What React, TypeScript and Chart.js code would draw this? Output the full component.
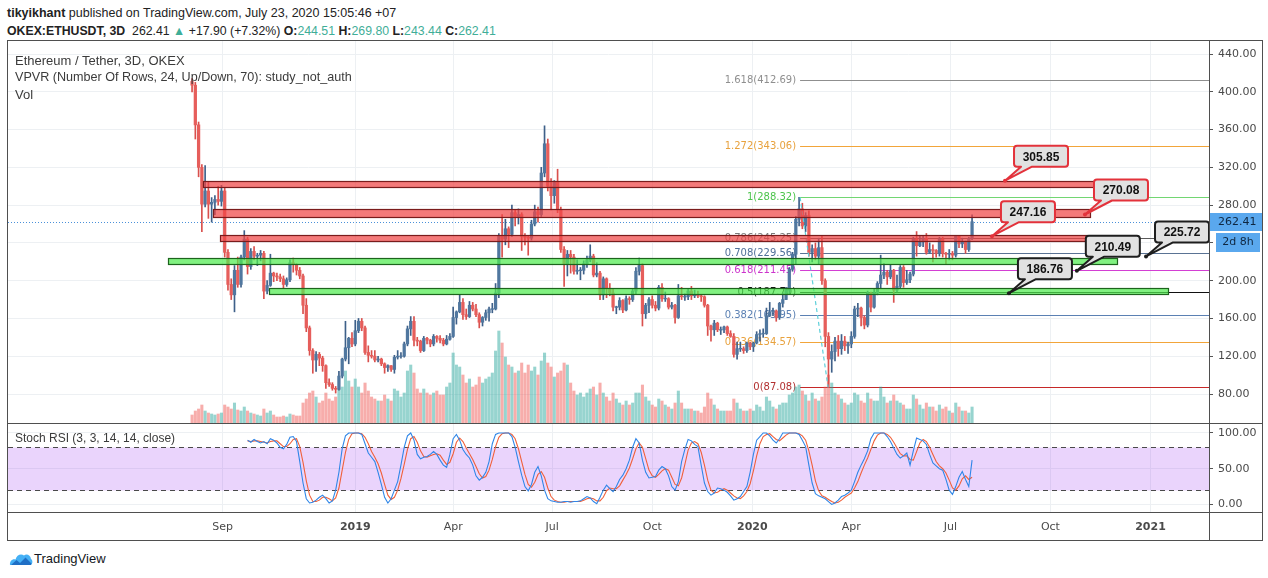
import React, { useEffect, useRef } from "react";
import { Chart, registerables } from "chart.js";
Chart.register(...registerables);

// ---------- DATA ----------
const FIRST_DAY = Date.UTC(2018, 7, 4); // first 3D candle
const DAY_MS = 86400000;
const DAYS_PER_BAR = 3;

const firstOpen = 411;
const closes = [
  407,365,320,281,295,281,283,286,284,295,
  230,196,185,211,196,225,244,215,231,226,
  227,229,189,195,208,205,204,202,196,201,
  219,217,211,205,174,150,126,116,122,118,
  110,92,90,86,85,99,117,129,139,133,
  147,157,150,124,121,120,116,117,112,108,
  110,106,119,120,120,133,149,157,137,136,
  126,139,137,133,141,139,137,133,138,141,
  161,167,177,164,162,174,170,164,156,161,
  166,170,170,187,248,244,255,249,272,268,
  270,247,246,245,260,273,270,314,345,300,
  290,304,275,233,218,228,225,210,211,211,
  218,222,226,206,208,185,202,192,187,172,
  172,179,169,181,180,189,210,216,165,174,
  180,174,171,193,181,181,172,174,161,184,
  183,183,189,184,185,184,183,174,152,148,
  155,148,148,151,144,141,122,128,128,126,
  134,130,134,143,144,144,163,167,168,161,
  176,180,190,212,228,265,276,258,269,230,
  234,226,235,200,141,117,125,136,128,136,
  131,133,141,170,171,161,153,187,172,187,
  197,206,209,204,211,190,194,214,198,201,
  207,244,237,241,245,230,233,232,229,244,
  229,228,229,227,247,239,241,233,244.51,262.41,
];
const highs = [
  414,410,368,323,322,305,288,290,300,301,
  298,233,202,216,225,227,253,246,234,236,
  229,232,231,200,228,209,208,207,205,203,
  222,224,218,214,207,181,152,128,125,124,
  120,111,96,92,88,104,118,157,140,145,
  158,160,160,152,131,126,126,120,118,113,
  111,110,121,126,124,135,152,162,162,140,
  137,141,140,138,143,142,142,139,142,144,
  172,168,185,181,170,178,177,175,166,162,
  169,172,176,197,250,270,265,257,280,275,
  276,272,250,248,264,280,278,320,364,350,
  308,306,318,278,236,232,232,228,222,214,
  221,226,238,228,219,210,204,203,197,192,
  173,182,180,184,183,191,214,224,218,176,
  182,184,178,195,197,188,182,177,175,196,
  193,186,192,194,190,189,185,184,175,153,
  158,156,151,152,152,147,144,135,135,130,
  135,135,135,146,148,149,171,177,171,169,
  177,187,193,214,230,268,288.32,282,272,274,
  238,240,245,248,202,145,132,140,142,143,
  141,135,146,173,176,172,163,189,188,191,
  199,227,218,211,217,212,206,216,216,211,
  209,246,252,247,247,250,240,238,233,246,
  246,230,233,231,248,248,245,242,246,269.8,
];
const lows = [
  400,350,310,252,278,266,262,270,280,279,
  225,190,180,167,193,193,222,207,212,222,
  216,221,181,186,194,199,200,199,192,194,
  199,209,206,202,165,146,121,102,104,110,
  104,86,88,84,81,84,97,115,112,130,
  131,145,147,122,114,118,114,114,110,102,
  104,104,102,117,118,119,131,142,131,131,
  124,125,133,130,131,135,134,131,132,137,
  140,154,166,159,159,161,168,162,150,152,
  158,157,166,169,182,225,238,235,247,258,
  260,232,238,227,243,258,262,268,310,295,
  275,282,272,230,194,205,208,207,207,201,
  207,214,220,204,204,180,180,182,184,168,
  165,169,166,168,175,178,186,206,152,160,
  166,171,168,169,178,178,170,170,155,160,
  180,179,180,180,182,182,178,172,142,136,
  142,146,143,145,142,140,119,117,125,123,
  124,127,125,133,136,140,143,162,163,157,
  159,172,180,186,210,218,258,255,252,226,
  220,222,218,196,130,87.08,103,115,120,122,
  126,123,129,139,162,152,149,151,167,171,
  185,192,202,196,202,177,188,192,193,196,
  198,205,226,236,236,228,229,220,225,226,
  225,217,222,222,225,235,235,229,231,243.44,
];
const volumes = [
  8,12,14,18,12,10,9,8,9,10,
  18,16,14,20,13,12,16,12,10,9,
  8,7,14,10,12,8,6,6,7,6,
  9,8,7,7,20,24,30,32,26,20,
  22,30,24,22,26,34,36,52,42,36,
  44,36,30,40,32,26,24,22,22,28,
  24,22,34,32,26,30,52,58,50,34,
  30,34,30,28,30,32,28,28,36,40,
  70,58,56,48,40,44,36,38,46,40,
  44,46,50,72,92,80,66,58,56,50,
  52,60,50,58,52,56,48,62,70,60,
  56,46,50,52,60,58,40,32,28,30,
  26,30,34,36,28,40,30,26,22,30,
  24,20,18,22,18,20,30,30,38,26,
  22,18,16,24,22,18,16,14,20,32,
  20,14,14,14,12,12,10,16,30,24,
  18,14,12,12,12,12,24,20,14,12,
  12,14,12,18,16,12,26,22,16,14,
  18,20,20,28,30,36,38,32,28,22,
  30,24,22,26,36,48,40,30,28,24,
  20,18,20,30,28,22,20,30,24,22,
  22,36,26,20,22,28,22,20,18,14,
  14,28,24,18,14,20,16,16,12,18,
  14,16,12,10,20,16,12,12,10,16,
];

const stochStart = 17;
const stochK = [
  90,87,91,
  88,86,88,85,92,90,86,80,78,84,
  94,95,88,60,30,8,2,3,6,10,
  13,8,2,5,20,45,78,96,100,100,
  100,100,98,85,72,66,60,45,28,10,
  2,8,20,32,55,80,96,100,90,70,
  64,66,67,70,74,70,62,55,52,70,
  92,98,90,77,70,65,55,40,34,38,
  45,60,85,98,100,100,100,100,95,80,
  60,41,25,19,28,45,53,40,20,8,
  5,4,3,3,4,4,3,4,4,5,
  8,11,9,4,1,10,20,27,22,18,
  25,35,41,50,62,80,92,86,62,45,
  37,38,39,48,53,50,40,25,20,32,
  60,77,91,89,84,81,55,30,18,13,
  16,23,22,20,17,12,6,8,11,18,
  25,45,70,90,95,100,100,96,90,86,
  92,100,100,100,100,100,98,90,81,55,
  30,15,12,10,8,4,0,2,6,11,
  13,16,20,32,45,55,64,75,92,100,
  100,100,100,95,88,79,70,65,68,72,
  55,75,93,91,89,84,70,58,54,50,
  48,35,20,14,25,38,46,35,25,62,
];
const stochD = [
  89,88,89,
  89,88,87,86,88,89,89,85,81,81,
  85,91,92,81,59,33,13,4,4,6,
  10,10,8,5,9,23,48,73,91,99,
  100,100,99,94,85,74,66,57,44,28,
  13,7,10,20,36,56,77,92,95,87,
  75,67,66,68,70,71,69,62,56,59,
  71,87,93,88,79,71,63,53,43,37,
  39,48,63,81,94,99,100,100,98,92,
  78,60,42,28,24,31,42,46,38,23,
  11,6,4,3,3,4,4,4,4,4,
  6,8,9,8,5,5,10,19,23,22,
  22,26,34,42,51,64,78,86,80,64,
  48,40,38,42,47,50,48,38,28,26,
  37,56,76,86,88,85,73,55,34,20,
  16,17,20,22,20,16,12,9,8,12,
  18,29,47,68,85,95,98,99,95,91,
  89,93,97,100,100,100,99,96,90,75,
  55,33,19,12,10,7,4,2,3,6,
  10,13,16,23,32,44,55,65,77,89,
  97,100,100,98,94,87,79,71,68,68,
  63,62,74,86,91,88,80,70,60,54,
  50,44,34,23,20,26,36,40,35,38,
];

const tickDates = ["2018-09-01","2019-01-01","2019-04-01","2019-07-01","2019-10-01","2020-01-01","2020-04-01","2020-07-01","2020-10-01","2021-01-01"];
const tickLabels = ["Sep","2019","Apr","Jul","Oct","2020","Apr","Jul","Oct","2021"];
const priceTicks = [80,120,160,200,240,280,320,360,400,440];
const stochTicks = [0,50,100];

const fibRatios = ["1.618","1.272","1","0.786","0.708","0.618","0.5","0.382","0.236","0"];
const fibPrices = [412.69,343.06,288.32,245.25,229.56,211.45,187.70,163.95,134.57,87.08];
const fibLineColors = ["#8f8f8f","#f2a53a","#72d672","#5a5a5a","#5a7394","#d33fd3","#111111","#5b80b3","#f2a53a","#c62828"];
const fibTextColors = ["#8f8f8f","#e8a23e","#4cc44c","#7a7a7a","#4f6f99","#cc33cc","#111111","#5b80b3","#e8a23e","#b23030"];
const fibStartBar = 186.3;
const fibSwingBars = [186.3, 194.9];
const fibSwingPrices = [288.32, 87.08];

const zoneFrom = [3.4, 6.4, 8.6, -7.4, 23.6];
const zoneTo = [279.1, 275.1, 274.2, 283.4, 299];
const zoneTop = [306, 276, 248, 224, 192];
const zoneBottom = [299.5, 267, 241.5, 217.5, 186];
const zoneKind = ["red","red","red","green","green"];

const calloutBars = [249.1, 273.6, 245.1, 292.3, 271.1, 250.3];
const calloutPrices = [305.85, 270.08, 247.16, 225.72, 210.49, 186.76];
const calloutKind = ["red","red","red","black","black","black"];

const lastPrice = 262.41;
const timeLeft = "2d 8h";

// ---------- DERIVED ----------
const opens = [firstOpen, ...closes.slice(0, -1)];
const isUp = closes.map((c, i) => c >= opens[i]);
const tickIdx = tickDates.map((d) => (Date.parse(d + "T00:00:00Z") - FIRST_DAY) / DAY_MS / DAYS_PER_BAR);
const X_MIN = -56.4;
const X_MAX = 311.6;

const AXIS_FONT = '"DejaVu Sans", Verdana, sans-serif';
const UI_FONT = '"Liberation Sans", Arial, sans-serif';
const GRID = "#edf0f3";
const FRAME = "#4f4f4f";
const TEAL = "#3fae98";

const noPadV = (s: any, w: number) => { s.width = w; s.paddingTop = 0; s.paddingBottom = 0; };
const noPadH = (s: any, h: number) => { s.height = h; s.paddingLeft = 0; s.paddingRight = 0; };

const priceOverlay: any = {
  id: "priceOverlay",
  beforeDatasetsDraw(chart: any) {
    const { ctx, chartArea: a, scales } = chart;
    const x = scales.x, y = scales.y;
    ctx.save();
    ctx.beginPath();
    ctx.rect(a.left, a.top, a.right - a.left, a.bottom - a.top);
    ctx.clip();
    const ly = Math.round(y.getPixelForValue(lastPrice)) + 0.5;
    ctx.strokeStyle = "#4a90d9";
    ctx.lineWidth = 1;
    ctx.setLineDash([1, 2]);
    ctx.beginPath();
    ctx.moveTo(a.left, ly);
    ctx.lineTo(a.right, ly);
    ctx.stroke();
    ctx.setLineDash([]);
    const fx = x.getPixelForValue(fibStartBar);
    ctx.font = "10px " + AXIS_FONT;
    ctx.textAlign = "right";
    ctx.textBaseline = "middle";
    fibPrices.forEach((p, k) => {
      const py = Math.round(y.getPixelForValue(p)) + 0.5;
      ctx.strokeStyle = fibLineColors[k];
      ctx.beginPath();
      ctx.moveTo(fx, py);
      ctx.lineTo(a.right, py);
      ctx.stroke();
      ctx.fillStyle = fibTextColors[k];
      ctx.fillText(fibRatios[k] + "(" + p.toFixed(2) + ")", fx - 4, py);
    });
    ctx.restore();
  },
  afterDatasetsDraw(chart: any) {
    const { ctx, chartArea: a, scales } = chart;
    const x = scales.x, y = scales.y;
    ctx.save();
    ctx.beginPath();
    ctx.rect(a.left, a.top, a.right - a.left, a.bottom - a.top);
    ctx.clip();
    zoneFrom.forEach((f, k) => {
      const x1 = Math.round(x.getPixelForValue(f)) + 0.5;
      const x2 = Math.round(x.getPixelForValue(zoneTo[k])) + 0.5;
      const y1 = Math.round(y.getPixelForValue(zoneTop[k])) + 0.5;
      const y2 = Math.round(y.getPixelForValue(zoneBottom[k])) + 0.5;
      const red = zoneKind[k] === "red";
      ctx.fillStyle = red ? "rgba(240, 70, 70, 0.72)" : "rgba(80, 236, 80, 0.72)";
      ctx.fillRect(x1, y1, x2 - x1, y2 - y1);
      ctx.strokeStyle = red ? "#7a1c1c" : "#1d641d";
      ctx.lineWidth = 1.2;
      ctx.strokeRect(x1, y1, x2 - x1, y2 - y1);
    });
    ctx.restore();

    ctx.save();
    calloutBars.forEach((b, k) => {
      const px = x.getPixelForValue(b);
      const py = y.getPixelForValue(calloutPrices[k]);
      const color = calloutKind[k] === "red" ? "#e3323b" : "#1e1e1e";
      const bx = px + 9, by = py - 35, bw = 54, bh = 21, r = 3;
      const t1 = bx + 7, t2 = bx + 18;
      ctx.beginPath();
      ctx.moveTo(bx + r, by);
      ctx.lineTo(bx + bw - r, by);
      ctx.quadraticCurveTo(bx + bw, by, bx + bw, by + r);
      ctx.lineTo(bx + bw, by + bh - r);
      ctx.quadraticCurveTo(bx + bw, by + bh, bx + bw - r, by + bh);
      ctx.lineTo(t2, by + bh);
      ctx.lineTo(px, py);
      ctx.lineTo(t1, by + bh);
      ctx.lineTo(bx + r, by + bh);
      ctx.quadraticCurveTo(bx, by + bh, bx, by + bh - r);
      ctx.lineTo(bx, by + r);
      ctx.quadraticCurveTo(bx, by, bx + r, by);
      ctx.closePath();
      ctx.fillStyle = "#e1e1e1";
      ctx.fill();
      ctx.strokeStyle = color;
      ctx.lineWidth = 2;
      ctx.lineJoin = "round";
      ctx.stroke();
      ctx.beginPath();
      ctx.arc(px, py, 2, 0, Math.PI * 2);
      ctx.fillStyle = color;
      ctx.fill();
      ctx.fillStyle = "#111";
      ctx.font = "bold 12px " + UI_FONT;
      ctx.textAlign = "center";
      ctx.textBaseline = "middle";
      ctx.fillText(calloutPrices[k].toFixed(2), bx + bw / 2, by + bh / 2 + 1);
    });
    ctx.restore();
  },
  afterDraw(chart: any) {
    const { ctx, chartArea: a, scales } = chart;
    const y = scales.y;
    const ly = Math.round(y.getPixelForValue(lastPrice));
    ctx.save();
    ctx.fillStyle = "#5aa8ee";
    ctx.fillRect(a.right + 1, ly - 9, 52, 18);
    ctx.fillRect(a.right + 7, ly + 11, 44, 19);
    ctx.fillStyle = "#0f2740";
    ctx.font = "11px " + AXIS_FONT;
    ctx.textBaseline = "middle";
    ctx.textAlign = "left";
    ctx.fillText(lastPrice.toFixed(2), a.right + 9, ly);
    ctx.textAlign = "center";
    ctx.fillText(timeLeft, a.right + 29, ly + 20.5);
    ctx.restore();
  },
};

const stochOverlay: any = {
  id: "stochOverlay",
  beforeDatasetsDraw(chart: any) {
    const { ctx, chartArea: a, scales } = chart;
    const y = scales.y;
    const y80 = Math.round(y.getPixelForValue(80)) + 0.5;
    const y20 = Math.round(y.getPixelForValue(20)) + 0.5;
    ctx.save();
    ctx.fillStyle = "rgba(150, 40, 240, 0.2)";
    ctx.fillRect(a.left, y80, a.right - a.left, y20 - y80);
    ctx.strokeStyle = "#4a4a4a";
    ctx.lineWidth = 1;
    ctx.setLineDash([5, 4]);
    [y80, y20].forEach((py) => {
      ctx.beginPath();
      ctx.moveTo(a.left, py);
      ctx.lineTo(a.right, py);
      ctx.stroke();
    });
    ctx.restore();
  },
};

function PricePane() {
  const ref = useRef<HTMLCanvasElement>(null);
  useEffect(() => {
    const bodyData = closes.map((c, i) => {
      let lo = Math.min(opens[i], c), hi = Math.max(opens[i], c);
      if (hi - lo < 0.8) { const m = (hi + lo) / 2; lo = m - 0.4; hi = m + 0.4; }
      return { x: i, y: [lo, hi] };
    });
    const chart = new Chart(ref.current as HTMLCanvasElement, {
      type: "bar",
      data: {
        datasets: [
          {
            type: "bar", label: "Vol", yAxisID: "yVol",
            data: volumes.map((v, i) => ({ x: i, y: v })),
            backgroundColor: isUp.map((u) => (u ? "rgba(38,166,154,0.48)" : "rgba(239,83,80,0.48)")),
            barThickness: 2.4, grouped: false, order: 5,
          } as any,
          {
            type: "bar", label: "wick", yAxisID: "y",
            data: closes.map((c, i) => ({ x: i, y: [lows[i], highs[i]] })),
            backgroundColor: isUp.map((u) => (u ? "#3e6089" : "#d9504d")),
            barThickness: 1, grouped: false, order: 4,
          } as any,
          {
            type: "bar", label: "body", yAxisID: "y",
            data: bodyData,
            backgroundColor: isUp.map((u) => (u ? "#50779f" : "#e65e5b")),
            barThickness: 2.6, grouped: false, order: 3,
          } as any,
          {
            type: "line", label: "fib", yAxisID: "y",
            data: fibSwingBars.map((b, k) => ({ x: b, y: fibSwingPrices[k] })),
            borderColor: "#5fd0da", borderDash: [4, 3], borderWidth: 1.2,
            pointRadius: 0, order: 1,
          } as any,
        ],
      },
      options: {
        animation: false,
        responsive: false,
        events: [],
        layout: { padding: 0, autoPadding: false },
        plugins: { legend: { display: false }, tooltip: { enabled: false } },
        scales: {
          x: {
            type: "linear", min: X_MIN, max: X_MAX, offset: false,
            afterBuildTicks: (s: any) => { s.ticks = tickIdx.map((v) => ({ value: v })); },
            afterFit: (s: any) => noPadH(s, 0),
            ticks: { display: false },
            grid: { color: GRID, drawTicks: false, offset: false },
            border: { display: false },
          },
          y: {
            type: "linear", position: "right", min: 49.3, max: 453.8,
            afterBuildTicks: (s: any) => { s.ticks = priceTicks.map((v) => ({ value: v })); },
            afterFit: (s: any) => noPadV(s, 53),
            ticks: {
              callback: (v: any) => Number(v).toFixed(2),
              color: "#4a4a4a", font: { family: AXIS_FONT, size: 11 }, padding: 5,
            },
            grid: { color: GRID, tickColor: "#555", tickLength: 4, drawTicks: true },
            border: { display: false },
          },
          yVol: { type: "linear", display: false, min: 0, max: 382 },
        } as any,
      },
      plugins: [priceOverlay],
    } as any);
    return () => chart.destroy();
  }, []);
  return (
    <canvas ref={ref} width={1254} height={382}
      style={{ position: "absolute", left: 8, top: 41, width: 1254, height: 382 }} />
  );
}

function StochPane() {
  const ref = useRef<HTMLCanvasElement>(null);
  useEffect(() => {
    const chart = new Chart(ref.current as HTMLCanvasElement, {
      type: "line",
      data: {
        datasets: [
          {
            label: "K", data: stochK.map((v, j) => ({ x: j + stochStart, y: v })),
            borderColor: "#2f86e8", borderWidth: 1.1, pointRadius: 0, order: 1,
          },
          {
            label: "D", data: stochD.map((v, j) => ({ x: j + stochStart, y: v })),
            borderColor: "#f0603a", borderWidth: 1.1, pointRadius: 0, order: 2,
          },
        ],
      },
      options: {
        animation: false,
        responsive: false,
        events: [],
        layout: { padding: 0, autoPadding: false },
        plugins: { legend: { display: false }, tooltip: { enabled: false } },
        scales: {
          x: {
            type: "linear", min: X_MIN, max: X_MAX, offset: false,
            afterBuildTicks: (s: any) => { s.ticks = tickIdx.map((v) => ({ value: v })); },
            afterFit: (s: any) => noPadH(s, 28),
            ticks: {
              autoSkip: false, maxRotation: 0, padding: 9, color: "#4a4a4a",
              callback: (_v: any, i: number) => tickLabels[i],
              font: (c: any) => ({
                family: AXIS_FONT, size: 11,
                weight: /^\d{4}$/.test(tickLabels[c.index] || "") ? "bold" : "normal",
              }),
            },
            grid: { color: GRID, drawTicks: false },
            border: { display: false },
          },
          y: {
            type: "linear", position: "right", min: -10.6, max: 112.6,
            afterBuildTicks: (s: any) => { s.ticks = stochTicks.map((v) => ({ value: v })); },
            afterFit: (s: any) => noPadV(s, 53),
            ticks: {
              callback: (v: any) => Number(v).toFixed(2),
              color: "#4a4a4a", font: { family: AXIS_FONT, size: 11 }, padding: 5,
            },
            grid: { color: GRID, tickColor: "#555", tickLength: 4, drawTicks: true },
            border: { display: false },
          },
        } as any,
      },
      plugins: [stochOverlay],
    } as any);
    return () => chart.destroy();
  }, []);
  return (
    <canvas ref={ref} width={1254} height={116}
      style={{ position: "absolute", left: 8, top: 424, width: 1254, height: 116 }} />
  );
}

function Line(props: { left: number; top: number; width: number; height: number }) {
  return <div style={{ position: "absolute", background: FRAME, ...props }} />;
}

export default function App() {
  const n = closes.length - 1;
  const chg = closes[n] - opens[n];
  const pct = (chg / opens[n]) * 100;
  const txt: any = { position: "absolute", whiteSpace: "nowrap", color: "#3b3b3b" };
  return (
    <div style={{ position: "absolute", left: 0, top: 0, width: 1268, height: 578, background: "#fff", overflow: "hidden", fontFamily: UI_FONT }}>
      <div style={{ ...txt, left: 7, top: 4, fontSize: 12.5, lineHeight: "18px", color: "#222" }}>
        <b>tikyikhant</b> published on TradingView.com, July 23, 2020 15:05:46 +07
      </div>
      <div style={{ ...txt, left: 7, top: 22, fontSize: 12.3, lineHeight: "18px", color: "#222" }}>
        <b>OKEX:ETHUSDT, 3D</b>&nbsp; {closes[n].toFixed(2)} <span style={{ color: TEAL }}>▲</span> +{chg.toFixed(2)} (+{pct.toFixed(2)}%){" "}
        <b>O:</b><span style={{ color: TEAL }}>{opens[n].toFixed(2)}</span>{" "}
        <b>H:</b><span style={{ color: TEAL }}>{highs[n].toFixed(2)}</span>{" "}
        <b>L:</b><span style={{ color: TEAL }}>{lows[n].toFixed(2)}</span>{" "}
        <b>C:</b><span style={{ color: TEAL }}>{closes[n].toFixed(2)}</span>
      </div>

      <PricePane />
      <StochPane />

      <Line left={7} top={40} width={1256} height={1} />
      <Line left={7} top={40} width={1} height={501} />
      <Line left={1262} top={40} width={1} height={501} />
      <Line left={7} top={540} width={1256} height={1} />
      <Line left={7} top={423} width={1256} height={1} />
      <Line left={7} top={512} width={1256} height={1} />
      <Line left={1209} top={40} width={1} height={500} />

      <div style={{ ...txt, left: 15, top: 52, fontSize: 13, lineHeight: "17px" }}>Ethereum / Tether, 3D, OKEX</div>
      <div style={{ ...txt, left: 15, top: 69, fontSize: 12.6, lineHeight: "17px" }}>VPVR (Number Of Rows, 24, Up/Down, 70): study_not_auth</div>
      <div style={{ ...txt, left: 15, top: 86, fontSize: 13, lineHeight: "17px" }}>Vol</div>
      <div style={{ ...txt, left: 15, top: 430, fontSize: 12, lineHeight: "16px" }}>Stoch RSI (3, 3, 14, 14, close)</div>

      <svg style={{ position: "absolute", left: 9, top: 550 }} width="24" height="18" viewBox="0 0 24 18">
        <path d="M1 15 C0.5 11 3.5 8.5 6.5 9.5 C7.5 5 12 3 15 5.5 C17.5 3.5 21.5 5 22 9 C24 10 24 15 21 15 Z" fill="#45b0f5" />
        <path d="M2 15 L7.5 10 L11 13 L16.5 7.5 L22.5 13.5 L22 15 Z" fill="#1f6fc5" />
      </svg>
      <div style={{ ...txt, left: 34, top: 551, fontSize: 13, lineHeight: "16px", color: "#131722" }}>TradingView</div>
    </div>
  );
}
